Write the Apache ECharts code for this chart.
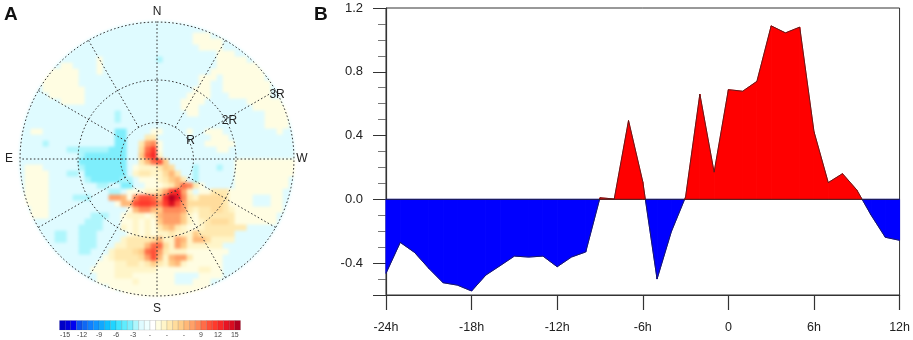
<!DOCTYPE html>
<html>
<head>
<meta charset="utf-8">
<style>
html,body{margin:0;padding:0;background:#fff}
#chart{width:913px;height:340px}
#chart canvas:first-child{filter:blur(1.6px)}
</style>
<script src="https://cdn.jsdelivr.net/npm/echarts@6/dist/echarts.min.js"></script>
</head>
<body>
<div id="chart"></div>
<script>
// Panel B
const hours=[-24,-23,-22,-21,-20,-19,-18,-17,-16,-15,-14,-13,-12,-11,-10,-9,-8,-7,-6,-5,-4,-3,-2,-1,0,1,2,3,4,5,6,7,8,9,10,11,12];
const anomaly=[-0.464,-0.27,-0.333,-0.433,-0.523,-0.538,-0.575,-0.475,-0.416,-0.356,-0.362,-0.356,-0.423,-0.362,-0.33,0.01,0.002,0.494,0.11,-0.5,-0.203,0.015,0.66,0.17,0.688,0.678,0.74,1.088,1.044,1.08,0.425,0.105,0.161,0.059,-0.098,-0.238,-0.257];
const yMajorTicks=[-0.6,-0.4,0,0.4,0.8,1.2];
const yLabels=[-0.4,0,0.4,0.8,1.2];
const yMinorTicks=[-0.5,-0.3,-0.2,-0.1,0.1,0.2,0.3,0.5,0.6,0.7,0.9,1.0,1.1];
const zeroLine=[[-24,0],[12,0]];

// Panel A: field, one character per 6-unit cell.
// a..e are -1..-5; 0-9,A-F are 0..15.
const fieldRows=[
"bbbbbbbbbbbbbbbbbbbbbbbbbbbbbbbbbbbbbbbbbbbbbb",
"bbbbbbbbbbbbbbbbbbbbbbbbbbbbbbbbbbbbbbbbbbbbbb",
"bbbbbbbbbbbbbbbbbbbbbbbbbbbbb111bbbbbbbbbbbbbb",
"bbbbbbbbbbbbbbbbbbbbbbbbbbbbb11111bbbbbbbbbbbb",
"bbbbbbbbbbbbbbbbbbbbbbbbbbbbbb1111bbbbbbbbbbbb",
"bbbbbbbbbbbbbbbbbbbbbbbbbbbbbbbbb111bbbbbbbbbb",
"bbbbbbbbbbbbb1bbbbbbbbbcbbbbbbbbb11111bbbbbbbb",
"bbbbbbb11bbbb1bbbbbbbbbbbbbbbbbbb1111111bbbbbb",
"bbbbb11111bbb1bbbbbbbbbbbbbbbbbb111111111bbbbb",
"bbbb111111bbbbbbbbbbbbbbbbbbbb111b1111111bbbbb",
"bbbb111111bbbbbbbbbbbbbbbbbbbb11bb11111111bbbb",
"bbbb1111111bbbbbbbbbbbbbbbbbb111bb11111111bbbb",
"bbbbb111111bbbbbbbbbbbbbbbbb1111bbb1111111bbbb",
"bbbbbbb1111bbbbbbbbbbbbbbbb1111bbbbbbb111111bb",
"bbbbbbbbbbbbbbbbbbbbbbbbbbb111bbbbbbbbb111111b",
"bbbbbbbbbbbbbbbbcbbbbbbbbbbb11bbbbbbbbbbb1111b",
"bbbbbbbbbbbbbbbbcbbbbbbbbbbbbbbbbbbbbbbbb1111b",
"bbbbbbbbbbbbbbbbbbbbbbbbbbbbbbbbbbbbbbbbb1111b",
"bb11bbbbbbbbbbbbddbbbb11bbbb1bb111bbbbbbbbb1bb",
"bbbbbbbbbbbbbbbbddbbb33bbbbbbbbb111bbbbbbbbbbb",
"bbbbcbbbbbbbbbbbddbb3781bbbbbbb11111bbbbbbbbbb",
"bbbbbbbbcccccccdddbb49B1bbbbbbbbb11bbbbbbbbbbb",
"bbbbbbbbbbcdddddddbb5AC2bbbbbbbbbbbbbbbbbbbbbb",
"bbbbbbbbbbddddddddbb369A5bbbbbbbbbbb1111111111",
"b111bbbbbbcdddddddb1222354bbbcbbbcbb1111111111",
"b1111bbbccbdddddddb23322463bbcbbbbbb1111111111",
"b1111bbbbbbcdddddccb11123563bcbbbbbb111111111b",
"b1111bbbbbbbbccbbddbb1112369831bbbbb111111111b".slice(0,46),
"b1111bbbbbbbbbbccb1112247BC72b11333111111111bb",
"b1111bbbbcccbbb77618AA96CFD83244443"+"1111bbb11bb",
"b1111bbbbbbbbbbb166ABBA8BEA74444443"+"1111bbb11bb",
"bb111bbbbbbbbbbbbb16886588873233443"+"211111111bb",
"bb111bbbbbbbccc"+"bb12221267775"+"21333333"+"1111111bbb",
"bbbbbbbbbbbccc"+"bbb112121"+"57775"+"21234443"+"1111111bbb",
"bbbbbbbbbbcccc"+"bbb212121"+"35632"+"112"+"3333333"+"bbbbbbbb",
"bbbbbbccbbccc"+"bbbbb12121"+"22322"+"253"+"33333"+"bbbbbbbbbb",
"bbbbbbccbbccc"+"bbbb2333"+"3462"+"2762"+"664"+"2222"+"bbbbbbbbbb",
"bbbbbbbbbbccc"+"bbb22333"+"6994"+"275"+"222222"+"bbbbbbbbbbbb",
"bbbbbbbbbbcc"+"bbb23334"+"59A7"+"3222"+"1111111"+"bbbbbbbbbbb",
"bbbbbbbbbbbbbb1"+"23333"+"47A6"+"2677"+"3"+"11111"+"bbbbbbbbbbbb",
"bbbbbbbbbbbbb11"+"122332"+"353"+"2562"+"111111"+"bbbbbbbbbbbb",
"bbbbbbbbbbbb111"+"122222"+"2211"+"11111"+"2211"+"bbbbbbbbbbbb",
"bbbbbbbbbbbbb11"+"12221"+"111111"+"bbbb"+"1111"+"bbbbbbbbbbbb",
"bbbbbbbbbbbbb11111"+"12"+"111111"+"bbb"+"111"+"bbbbbbbbbbbbbb",
"bbbbbbbbbbbbbbb11111111111111111bbbbbbbbbbbbbb",
"bbbbbbbbbbbbbbbbb1111111111111bbbbbbbbbbbbbbbb"
];
const ringRadii=[36.5,79,137];
const spokeBearings=[0,30,60,90,120,150,180,210,240,270,300,330];
const compassText=['N','W','S','E'];
const compassBearings=[0,90,180,270];
const compassRadii=[147.5,145,150,148];
const ringText=['R','2R','3R'];
const ringLabelRadii=[38,82,136];
const ringLabelBearing=62;

// Colour bar
const barPalette=['#0000c8','#0000dc','#0000f0','#0c50f0','#1068f4','#1080ff','#1094ff','#10a8ff','#10c0ff','#20d4ff','#40e4ff','#60ecfd','#7eeefc','#aef6fc','#dffbff','#eeffff','#ffffff','#fffde2','#fff5c8','#ffe9b0','#ffdc9c','#ffcc88','#ffb878','#ffa068','#ff8858','#ff6c48','#ff5038','#ff3a2c','#f82828','#e81424','#d80c20','#b00020'];
const barTicks=[-15,-12,-9,-6,-3,0,3,6,9,12,15];
const barTickText=['-15','-12','-9','-6','-3','-','-','-','9','12','15'];

const lev=ch=>(ch>='a'&&ch<='e')?-(ch.charCodeAt(0)-96):parseInt(ch,16);
const cellSize=6, half=23, diskR=137.5;
const fieldData=[];
fieldRows.forEach((row,r)=>{for(let c=0;c<row.length;c++)fieldData.push([(c-half)*cellSize,(half-r)*cellSize,lev(row[c])]);});
const polar=(r,b)=>[r*Math.sin(b*Math.PI/180),r*Math.cos(b*Math.PI/180)];
const colorOf=v=>barPalette[Math.max(0,Math.min(31,v+16))];

function clampPt(x,y){const d=Math.hypot(x,y);return d>diskR?[x*diskR/d,y*diskR/d]:[x,y];}
function renderCell(p,api){
  const x=api.value(0),y=api.value(1),v=api.value(2);
  if(Math.hypot(Math.abs(x)<Math.abs(x+cellSize)?x:x+cellSize,Math.abs(y)<Math.abs(y-cellSize)?y:y-cellSize)>=diskR)return null;
  const pts=[];const n=4;
  for(let i=0;i<n;i++)pts.push(clampPt(x+cellSize*i/n,y));
  for(let i=0;i<n;i++)pts.push(clampPt(x+cellSize,y-cellSize*i/n));
  for(let i=0;i<n;i++)pts.push(clampPt(x+cellSize-cellSize*i/n,y-cellSize));
  for(let i=0;i<n;i++)pts.push(clampPt(x,y-cellSize+cellSize*i/n));
  const col=colorOf(v);
  return {type:'polygon',shape:{points:pts.map(q=>api.coord(q))},style:{fill:col,stroke:col,lineWidth:0.8}};
}
const dotStyle={stroke:'#333',fill:null,lineWidth:1,lineDash:[1.6,2.2]};
function renderRing(p,api){
  const r=api.value(0),pts=[];
  for(let b=0;b<=360;b+=3)pts.push(api.coord(polar(r,b)));
  return {type:'polyline',shape:{points:pts},style:dotStyle};
}
function renderSpoke(p,api){
  const b=api.value(0),start=b%90===0?0:ringRadii[0];
  return {type:'polyline',shape:{points:[api.coord(polar(start,b)),api.coord(polar(ringRadii[2],b))]},style:dotStyle};
}
function renderBar(p,api){
  const i=api.value(0);
  const a=api.coord([i,0]),b=api.coord([i+1,1]);
  return {type:'rect',shape:{x:a[0],y:b[1],width:b[0]-a[0],height:a[1]-b[1]},style:{fill:barPalette[i+16],stroke:'rgba(60,60,60,0.35)',lineWidth:0.4}};
}
// one filled slab between neighbouring hours, split where the curve crosses zero
function renderSlab(p,api){
  const h0=api.value(0),v0=api.value(1),h1=api.value(2),v1=api.value(3);
  const poly=(pts,col)=>({type:'polygon',shape:{points:pts.map(q=>api.coord(q))},style:{fill:col,stroke:col,lineWidth:1}});
  const col=v=>v>0?'#ff0000':'#0000ff';
  if(v0*v1>=0)return poly([[h0,0],[h0,v0],[h1,v1],[h1,0]],col(v0+v1));
  const hc=h0+(h1-h0)*v0/(v0-v1);
  return {type:'group',children:[poly([[h0,0],[h0,v0],[hc,0]],col(v0)),poly([[hc,0],[h1,v1],[h1,0]],col(v1))]};
}
const font='"Liberation Sans",Arial,sans-serif';
const textLabel=t=>({show:true,position:'inside',formatter:t,color:'#222',fontSize:12,fontFamily:font,opacity:1});
const compassData=compassText.map((t,i)=>({value:polar(compassRadii[i],compassBearings[i]),label:textLabel(t)}));
const ringLabelData=ringText.map((t,i)=>({value:polar(ringLabelRadii[i],ringLabelBearing),label:textLabel(t)}));
const axisCol='#333';

const option={
  animation:false,
  backgroundColor:'#fff',
  title:[
    {text:'A',left:-1,top:0,textStyle:{fontSize:19,fontWeight:'bold',color:'#111',fontFamily:font}},
    {text:'B',left:309,top:0,textStyle:{fontSize:19,fontWeight:'bold',color:'#111',fontFamily:font}}
  ],
  grid:[
    {left:2,top:4,width:310,height:310,show:false},
    {left:386,top:8,width:514.5,height:287,show:true,borderColor:axisCol,borderWidth:1,backgroundColor:'transparent'},
    {left:59.5,top:320.5,width:181,height:9.5,show:false}
  ],
  xAxis:[
    {gridIndex:0,type:'value',min:-155,max:155,show:false},
    {gridIndex:1,type:'value',min:-24,max:12,interval:6,splitLine:{show:false},
      axisLine:{lineStyle:{color:axisCol,width:1.2},onZero:false},
      axisTick:{length:15,lineStyle:{color:axisCol,width:1.2}},
      axisLabel:{margin:26,fontSize:12.5,color:'#222',fontFamily:font,hideOverlap:false,showMinLabel:true,showMaxLabel:true,formatter:v=>v===0?'0':v+'h'}},
    {gridIndex:2,type:'value',min:-16,max:16,splitLine:{show:false},axisLine:{show:false},axisTick:{show:false},
      axisLabel:{customValues:barTicks,margin:2,fontSize:7,color:'#444',fontFamily:font,formatter:v=>barTickText[barTicks.indexOf(v)]}}
  ],
  yAxis:[
    {gridIndex:0,type:'value',min:-155,max:155,show:false},
    {gridIndex:1,type:'value',min:-0.6,max:1.2,splitLine:{show:false},
      axisLine:{onZero:false,lineStyle:{color:axisCol,width:1.2}},
      axisTick:{customValues:yMajorTicks,length:13,lineStyle:{color:axisCol,width:1}},
      axisLabel:{customValues:yLabels,margin:23,fontSize:13,color:'#222',fontFamily:font,formatter:v=>v.toFixed(1)}},
    {gridIndex:1,type:'value',min:-0.6,max:1.2,splitLine:{show:false},position:'left',
      axisLine:{show:false,onZero:false},axisLabel:{show:false},
      axisTick:{customValues:yMinorTicks,length:8,lineStyle:{color:'#555',width:0.8}}},
    {gridIndex:2,type:'value',min:0,max:1,show:false}
  ],
  series:[
    {name:'field',type:'custom',zlevel:-1,xAxisIndex:0,yAxisIndex:0,clip:false,silent:true,renderItem:renderCell,data:fieldData,encode:{x:0,y:1}},
    {name:'rings',type:'custom',xAxisIndex:0,yAxisIndex:0,silent:true,renderItem:renderRing,data:ringRadii.map(r=>[r])},
    {name:'spokes',type:'custom',xAxisIndex:0,yAxisIndex:0,silent:true,renderItem:renderSpoke,data:spokeBearings.map(b=>[b])},
    {name:'labels',type:'scatter',xAxisIndex:0,yAxisIndex:0,symbolSize:1,clip:false,itemStyle:{color:'transparent'},silent:true,labelLayout:{hideOverlap:false},data:compassData.concat(ringLabelData)},
    {name:'area',type:'custom',xAxisIndex:1,yAxisIndex:1,silent:true,renderItem:renderSlab,data:hours.slice(0,-1).map((h,i)=>[h,anomaly[i],hours[i+1],anomaly[i+1]]),encode:{x:[0,2],y:[1,3]}},
    {name:'outline',type:'line',xAxisIndex:1,yAxisIndex:1,data:hours.map((h,i)=>[h,anomaly[i]]),symbol:'none',lineStyle:{width:0.7,color:'#222'},silent:true},
    {name:'zero',type:'line',xAxisIndex:1,yAxisIndex:1,data:zeroLine,symbol:'none',lineStyle:{width:0.9,color:'#222'},silent:true},
    {name:'colorbar',type:'custom',xAxisIndex:2,yAxisIndex:3,silent:true,renderItem:renderBar,data:barPalette.map((c,i)=>[i-16]),encode:{x:0}}
  ]
};
const chart=echarts.init(document.getElementById('chart'),null,{renderer:'canvas'});
chart.setOption(option);
</script>
</body>
</html>
